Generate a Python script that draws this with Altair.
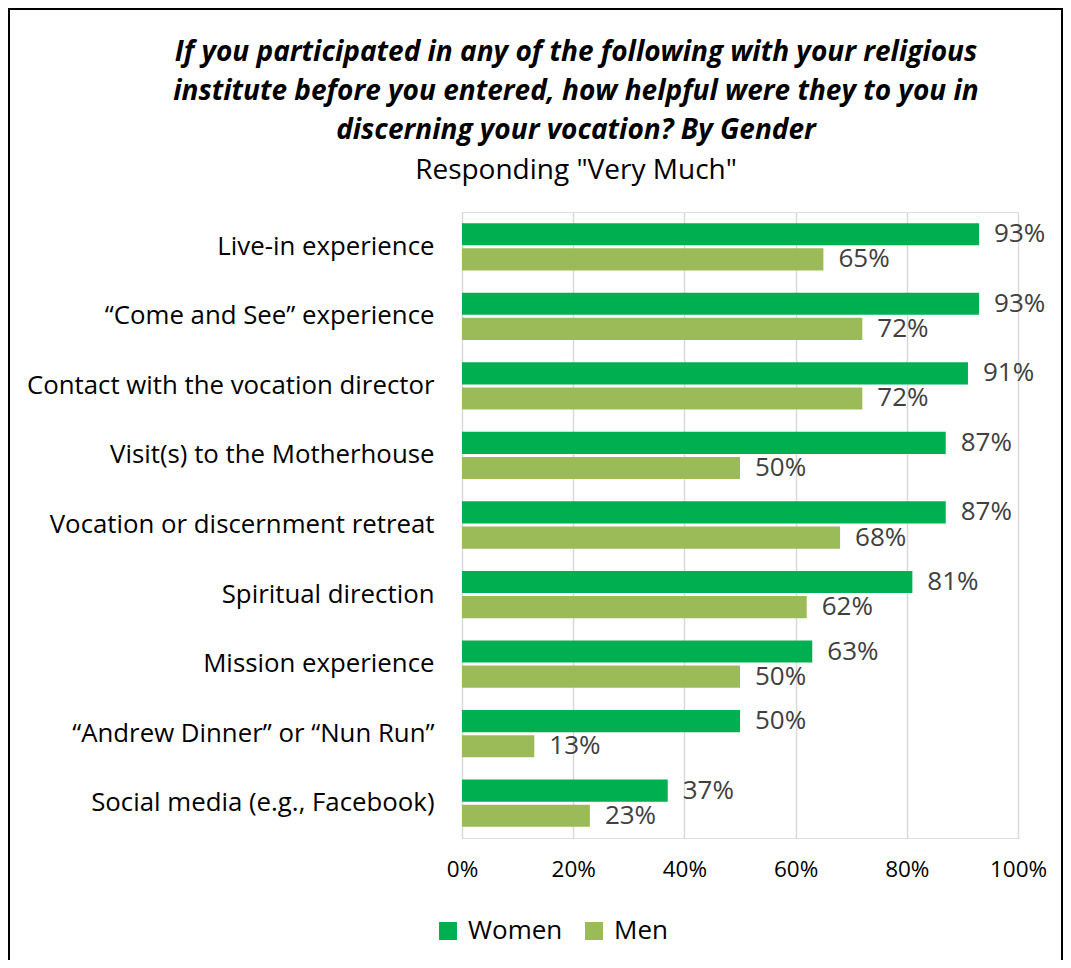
import altair as alt
import pandas as pd

categories = [
    "Live-in experience",
    "\u201cCome and See\u201d experience",
    "Contact with the vocation director",
    "Visit(s) to the Motherhouse",
    "Vocation or discernment retreat",
    "Spiritual direction",
    "Mission experience",
    "\u201cAndrew Dinner\u201d or \u201cNun Run\u201d",
    "Social media (e.g., Facebook)",
]
women = [93, 93, 91, 87, 87, 81, 63, 50, 37]
men = [65, 72, 72, 50, 68, 62, 50, 13, 23]
genders = ["Women", "Men"]
colors = ["#00B050", "#9BBB59"]
x_ticks = [0, 20, 40, 60, 80, 100]

rows = []
for c, w, m in zip(categories, women, men):
    rows.append({"cat": c, "gender": "Women", "value": w})
    rows.append({"cat": c, "gender": "Men", "value": m})
df = pd.DataFrame(rows)
df["label"] = df["value"].astype(str) + "%"

FONT = "Open Sans"

y = alt.Y(
    "cat:N", sort=categories, title=None,
    scale=alt.Scale(paddingInner=0.32, paddingOuter=0.16),
    axis=alt.Axis(labelFont=FONT, labelFontSize=25.8, labelColor="#000000",
                  labelPadding=28, ticks=False, domain=False, labelLimit=600),
)
yoff = alt.YOffset("gender:N", sort=genders,
                   scale=alt.Scale(paddingInner=0.12, paddingOuter=0))
x = alt.X(
    "value:Q", title=None, scale=alt.Scale(domain=[0, 100]),
    axis=alt.Axis(values=x_ticks, labelExpr="datum.value + '%'", grid=True,
                  gridColor="#D9D9D9", gridWidth=1.5, domain=False, ticks=False,
                  labelFlush=False, labelFont=FONT, labelFontSize=22.5,
                  labelColor="#000000", labelPadding=20),
)
color = alt.Color(
    "gender:N", sort=genders,
    scale=alt.Scale(domain=genders, range=colors),
    legend=alt.Legend(title=None, orient="none", direction="horizontal",
                      legendX=-27, legendY=706, symbolType="square",
                      symbolSize=324, symbolStrokeWidth=0, labelFont=FONT,
                      labelFontSize=26, labelColor="#000000", labelOffset=7,
                      columnPadding=18),
)

bars = alt.Chart(df).mark_bar().encode(x=x, y=y, yOffset=yoff, color=color)
labels = alt.Chart(df).mark_text(
    align="left", baseline="middle", dx=15, font=FONT, fontSize=26,
    color="#404040",
).encode(x="value:Q", y=alt.Y("cat:N", sort=categories), yOffset=yoff,
         text="label:N")

chart = alt.layer(bars, labels).properties(
    width=556,
    height=626,
    padding={"left": 454, "top": 204, "right": 45, "bottom": 122},
    autosize=alt.AutoSizeParams(type="none"),
    title=alt.TitleParams(
        text=[
            "If you participated in any of the following with your religious",
            "institute before you entered, how helpful were they to you in",
            "discerning your vocation? By Gender",
        ],
        subtitle='Responding "Very Much"',
        font=FONT, fontSize=28, fontStyle="italic", fontWeight="bold",
        color="#000000", lineHeight=39,
        subtitleFont=FONT, subtitleFontSize=28, subtitleColor="#000000",
        subtitlePadding=12,
        anchor="middle", frame="group", dx=-164, offset=27,
    ),
).configure_view(stroke=None).configure(background="#FFFFFF")

chart.save("out.html", embed_options={"renderer": "svg", "actions": False})

with open("out.html", encoding="utf-8") as f:
    html = f.read()
css = ("<style>#vis{position:relative;}#vis::after{content:'';position:absolute;"
       "left:0;top:0;right:0;bottom:0;border-style:solid solid none solid;"
       "border-width:2px;border-color:#000;pointer-events:none;}</style>")
html = html.replace("</head>", css + "</head>", 1)
with open("out.html", "w", encoding="utf-8") as f:
    f.write(html)
